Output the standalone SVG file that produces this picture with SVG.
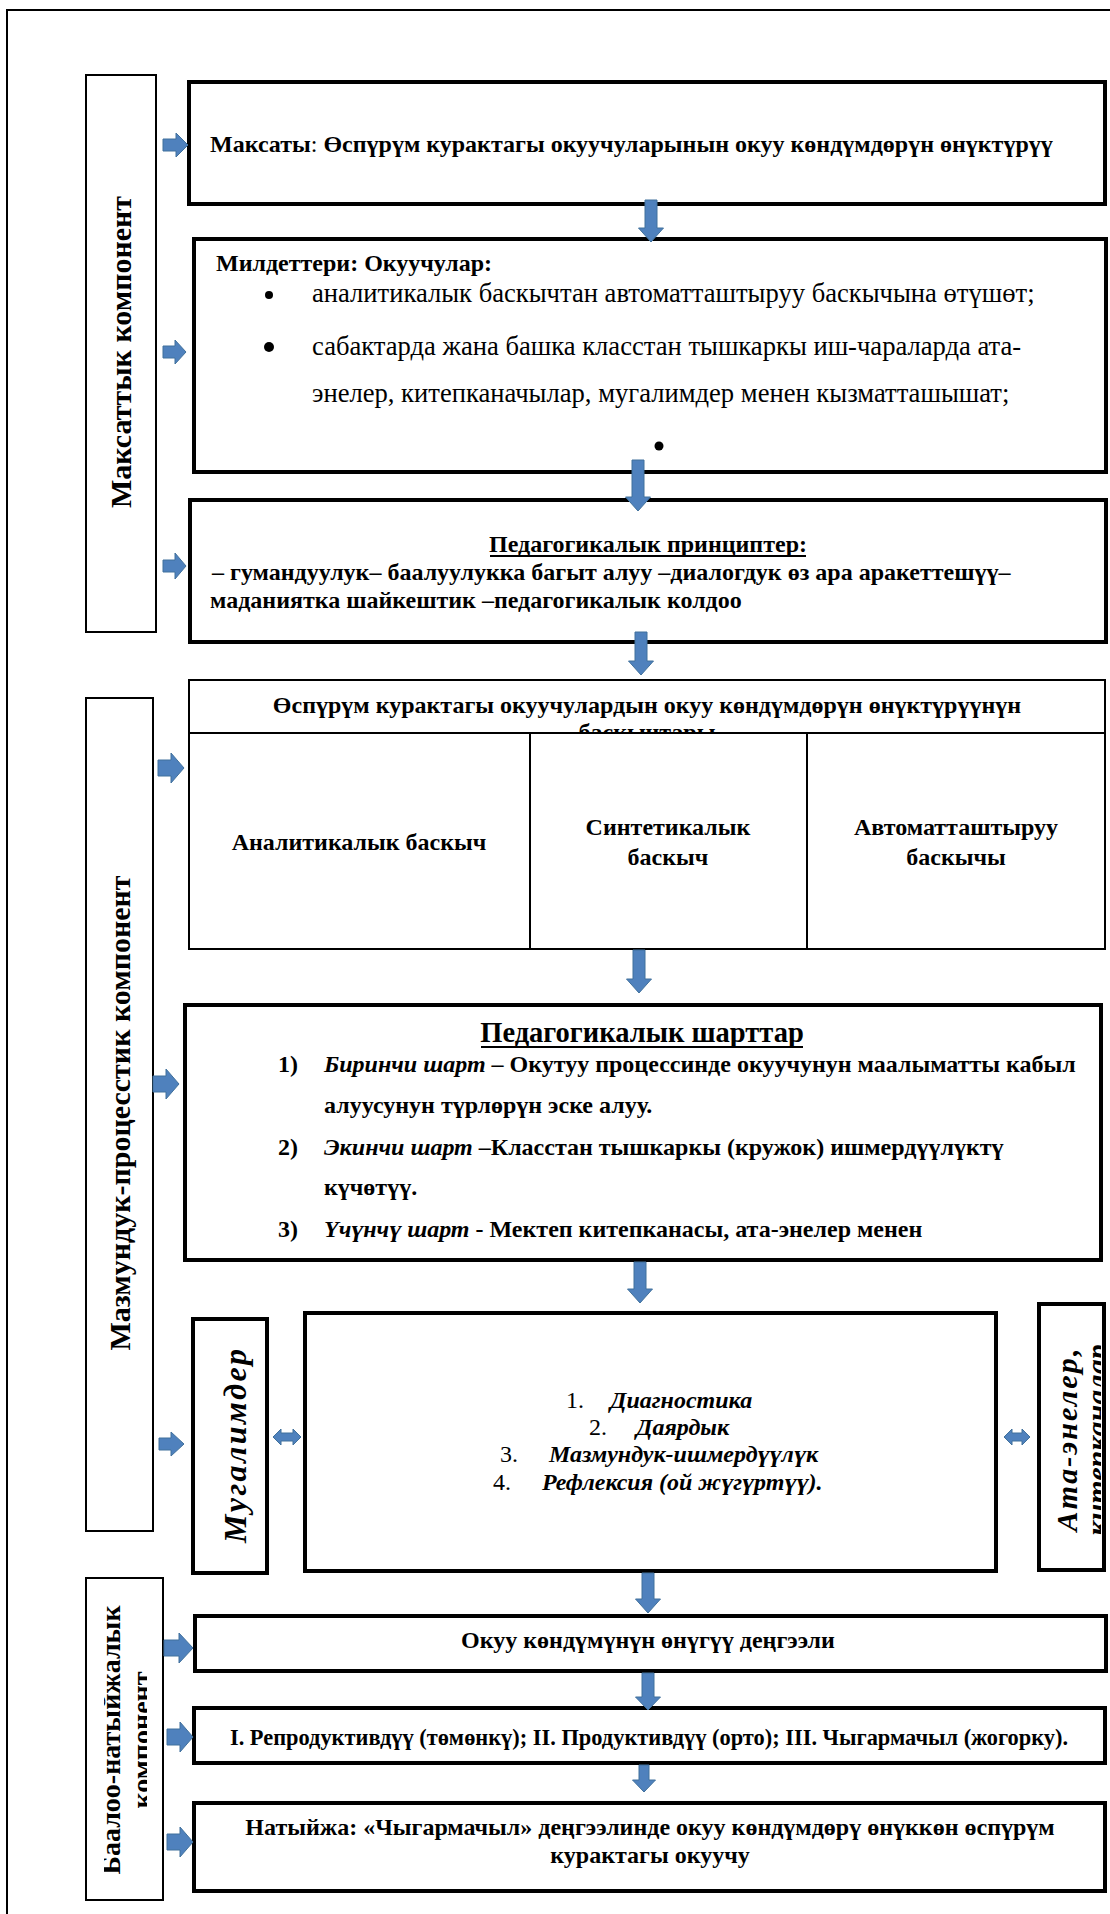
<svg xmlns="http://www.w3.org/2000/svg" width="1110" height="1914" viewBox="0 0 1110 1914">
<style>
text{font-family:"Liberation Serif","Times New Roman",serif;fill:#000}
.b{font-weight:bold}
.r{font-weight:normal}
.bi{font-weight:bold;font-style:italic}
.thick{fill:#fff;stroke:#000;stroke-width:4}
.thin{fill:#fff;stroke:#000;stroke-width:2}
.arr{fill:#4F81BD;stroke:#41719C;stroke-width:1}
.ul{stroke:#000;stroke-width:2}
</style>
<defs>
<clipPath id="cHead"><rect x="190" y="681" width="914" height="51"/></clipPath>
<clipPath id="cBaal"><rect x="104" y="1580" width="43" height="318"/></clipPath>
<clipPath id="cAta"><rect x="1041" y="1306" width="60" height="262"/></clipPath>
</defs>
<rect x="7" y="10" width="1200" height="2000" fill="#fff" stroke="#000" stroke-width="2"/>

<g id="label-maksat">
<rect class="thin" x="86" y="75" width="70" height="557"/>
<text class="b" font-size="30" text-anchor="middle" transform="translate(131,352) rotate(-90)">Максаттык компонент</text>
</g>
<g id="label-mazmun">
<rect class="thin" x="86" y="698" width="67" height="833"/>
<text class="b" font-size="30" text-anchor="middle" transform="translate(130,1113) rotate(-90)">Мазмундук-процесстик компонент</text>
</g>
<g id="label-baaloo">
<rect class="thin" x="86" y="1578" width="77" height="322"/>
<g clip-path="url(#cBaal)">
<text class="b" font-size="28" text-anchor="middle" transform="translate(120,1740) rotate(-90)">Баалоо-натыйжалык</text>
<text class="b" font-size="28" text-anchor="middle" transform="translate(151,1740) rotate(-90)">компонент</text>
</g>
</g>

<g id="box-maksaty">
<rect class="thick" x="189" y="82" width="916" height="122"/>
<text font-size="24" x="210" y="152"><tspan class="b">Максаты</tspan><tspan class="r">: </tspan><tspan class="b">Өспүрүм курактагы окуучуларынын окуу көндүмдөрүн өнүктүрүү</tspan></text>
</g>

<g id="box-mildet">
<rect class="thick" x="194" y="239" width="912" height="233"/>
<text class="b" font-size="24" x="216" y="271">Милдеттери: Окуучулар:</text>
<circle cx="269" cy="295" r="4"/>
<text class="r" font-size="26.6" x="312" y="302">аналитикалык баскычтан автоматташтыруу баскычына өтүшөт;</text>
<circle cx="269" cy="347" r="5"/>
<text class="r" font-size="26.6" x="312" y="355">сабактарда жана башка класстан тышкаркы иш-чараларда ата-</text>
<text class="r" font-size="26.6" x="312" y="402">энелер, китепканачылар, мугалимдер менен кызматташышат;</text>
<circle cx="659" cy="446" r="4.5"/>
</g>

<g id="box-princip">
<rect class="thick" x="190" y="500" width="916" height="142"/>
<text class="b" font-size="24" x="648" y="552" text-anchor="middle">Педагогикалык принциптер:</text>
<line class="ul" x1="490" y1="556" x2="806" y2="556"/>
<text class="b" font-size="24" x="212" y="580">– гумандуулук– баалуулукка багыт алуу –диалогдук өз ара аракеттешүү–</text>
<text class="b" font-size="24" x="210" y="608">маданиятка шайкештик –педагогикалык колдоо</text>
</g>

<g id="box-baskych">
<rect class="thin" x="189" y="680" width="916" height="269"/>
<line stroke="#000" stroke-width="2" x1="189" y1="733" x2="1105" y2="733"/>
<line stroke="#000" stroke-width="2" x1="530" y1="733" x2="530" y2="949"/>
<line stroke="#000" stroke-width="2" x1="807" y1="733" x2="807" y2="949"/>
<g clip-path="url(#cHead)">
<text class="b" font-size="24" x="647" y="713" text-anchor="middle">Өспүрүм курактагы окуучулардын окуу көндүмдөрүн өнүктүрүүнүн</text>
<text class="b" font-size="24" x="647" y="740" text-anchor="middle">баскычтары</text>
</g>
<text class="b" font-size="24" x="359" y="850" text-anchor="middle">Аналитикалык баскыч</text>
<text class="b" font-size="24" x="668" y="835" text-anchor="middle">Синтетикалык</text>
<text class="b" font-size="24" x="668" y="865" text-anchor="middle">баскыч</text>
<text class="b" font-size="24" x="956" y="835" text-anchor="middle">Автоматташтыруу</text>
<text class="b" font-size="24" x="956" y="865" text-anchor="middle">баскычы</text>
</g>

<g id="box-shart">
<rect class="thick" x="185" y="1005" width="916" height="255"/>
<text class="b" font-size="28.5" x="642" y="1042" text-anchor="middle">Педагогикалык шарттар</text>
<line class="ul" x1="481" y1="1047" x2="803" y2="1047"/>
<text class="b" font-size="24" x="278" y="1072">1)</text>
<text font-size="24" x="324" y="1072"><tspan class="bi">Биринчи шарт</tspan><tspan class="b"> – Окутуу процессинде окуучунун маалыматты кабыл</tspan></text>
<text class="b" font-size="24" x="324" y="1113">алуусунун түрлөрүн эске алуу.</text>
<text class="b" font-size="24" x="278" y="1155">2)</text>
<text font-size="24" x="324" y="1155"><tspan class="bi">Экинчи шарт</tspan><tspan class="b"> –Класстан тышкаркы (кружок) ишмердүүлүктү</tspan></text>
<text class="b" font-size="24" x="324" y="1195">күчөтүү.</text>
<text class="b" font-size="24" x="278" y="1237">3)</text>
<text font-size="24" x="324" y="1237"><tspan class="bi">Үчүнчү шарт</tspan><tspan class="b"> - Мектеп китепканасы, ата-энелер менен</tspan></text>
</g>

<g id="box-mugalim">
<rect class="thick" x="193" y="1319" width="74" height="254"/>
<text class="bi" font-size="32" text-anchor="middle" textLength="194" lengthAdjust="spacing" transform="translate(246,1446) rotate(-90)">Мугалимдер</text>
</g>

<g id="box-etap">
<rect class="thick" x="305" y="1313" width="691" height="258"/>
<text class="r" font-size="24" x="566" y="1408">1.</text>
<text class="bi" font-size="24" x="610" y="1408">Диагностика</text>
<text class="r" font-size="24" x="589" y="1435">2.</text>
<text class="bi" font-size="24" x="636" y="1435">Даярдык</text>
<text class="r" font-size="24" x="500" y="1462">3.</text>
<text class="bi" font-size="24" x="549" y="1462">Мазмундук-ишмердүүлүк</text>
<text class="r" font-size="24" x="493" y="1490">4.</text>
<text class="bi" font-size="24" x="542" y="1490">Рефлексия (ой жүгүртүү).</text>
</g>

<g id="box-ata">
<rect class="thick" x="1039" y="1304" width="65" height="266"/>
<g clip-path="url(#cAta)">
<text class="bi" font-size="30" text-anchor="middle" textLength="183" lengthAdjust="spacing" transform="translate(1077,1440) rotate(-90)">Ата-энелер,</text>
<text class="bi" font-size="30" text-anchor="middle" transform="translate(1107,1440) rotate(-90)">китепканалар</text>
</g>
</g>

<g id="box-denge">
<rect class="thick" x="195" y="1616" width="911" height="55"/>
<text class="b" font-size="24" x="648" y="1648" text-anchor="middle">Окуу көндүмүнүн өнүгүү деңгээли</text>
</g>

<g id="box-levels">
<rect class="thick" x="194" y="1708" width="911" height="55"/>
<text class="b" font-size="22.4" x="649" y="1745" text-anchor="middle">I. Репродуктивдүү (төмөнкү); II. Продуктивдүү (орто); III. Чыгармачыл (жогорку).</text>
</g>

<g id="box-natyjzha">
<rect class="thick" x="194" y="1803" width="911" height="88"/>
<text class="b" font-size="24" x="650" y="1835" text-anchor="middle">Натыйжа: «Чыгармачыл» деңгээлинде окуу көндүмдөрү өнүккөн өспүрүм</text>
<text class="b" font-size="24" x="650" y="1863" text-anchor="middle">курактагы окуучу</text>
</g>

<g id="connectors">
<path class="arr" d="M163,139H176V133L188,145L176,157V151H163Z"/>
<path class="arr" d="M163,346H175V340L186,352L175,364V358H163Z"/>
<path class="arr" d="M163,560H175V553L186,566L175,579V572H163Z"/>
<path class="arr" d="M158,760H171V753L184,768L171,783V776H158Z"/>
<path class="arr" d="M153,1076H166V1069L179,1084L166,1099V1092H153Z"/>
<path class="arr" d="M159,1438H171V1432L184,1444L171,1456V1450H159Z"/>
<path class="arr" d="M164,1640H179V1633L193,1648L179,1663V1656H164Z"/>
<path class="arr" d="M167,1729H180V1722L193,1737L180,1752V1745H167Z"/>
<path class="arr" d="M167,1834H180V1827L193,1842L180,1857V1850H167Z"/>

<path class="arr" d="M645,200H657V228H663.5L651,242L638.5,228H645Z"/>
<path class="arr" d="M632,460H644V497H650.5L638,511L625.5,497H632Z"/>
<path class="arr" d="M635,632H647V661H653.5L641,675L628.5,661H635Z"/>
<path class="arr" d="M633,950H645V979H651.5L639,993L626.5,979H633Z"/>
<path class="arr" d="M634,1262H646V1289H652.5L640,1303L627.5,1289H634Z"/>
<path class="arr" d="M642,1573H654V1599H660.5L648,1613L635.5,1599H642Z"/>
<path class="arr" d="M642,1673H654V1697H660.5L648,1710L635.5,1697H642Z"/>
<path class="arr" d="M639,1765H649V1780H655.5L644,1792L632.5,1780H639Z"/>

<path class="arr" d="M273,1437L281,1429V1433H293V1429L301,1437L293,1445V1441H281V1445Z"/>
<path class="arr" d="M1004,1437L1012,1429V1433H1022V1429L1030,1437L1022,1445V1441H1012V1445Z"/>
</g>
</svg>
